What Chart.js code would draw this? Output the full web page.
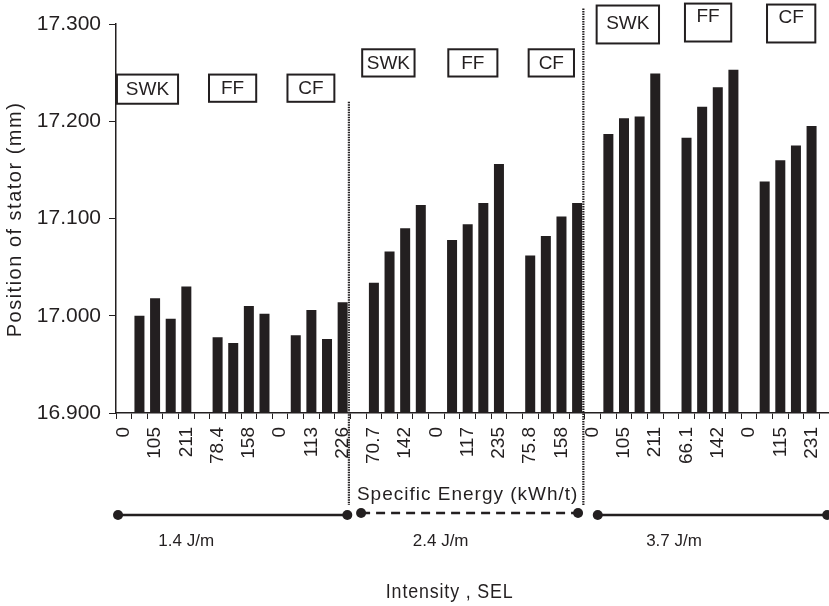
<!DOCTYPE html>
<html>
<head>
<meta charset="utf-8">
<title>Position of stator</title>
<script src="https://cdn.jsdelivr.net/npm/chart.js@4.4.0/dist/chart.umd.min.js"></script>
<style>
    html, body { margin: 0; padding: 0; background: #fff; overflow: hidden; }
    #wrap { width: 858px; height: 606px; }
</style>
</head>
<body>
<div id="wrap"><canvas id="statorChart" width="858" height="606"></canvas></div>
<script>
// Stator position (mm) per refining intensity, treatment and specific energy
const intensities = ['1.4 J/m', '2.4 J/m', '3.7 J/m'];
const treatments = ['SWK', 'FF', 'CF'];

const swk14 = [17.000, 17.018, 16.997, 17.030];
const ff14 = [16.978, 16.972, 17.010, 17.002];
const cf14 = [16.980, 17.006, 16.976, 17.014];

const swk24 = [17.034, 17.066, 17.090, 17.114];
const ff24 = [17.078, 17.094, 17.116, 17.156];
const cf24 = [17.062, 17.082, 17.102, 17.116];

const swk37 = [17.187, 17.203, 17.205, 17.249];
const ff37 = [17.183, 17.215, 17.235, 17.253];
const cf37 = [17.138, 17.160, 17.175, 17.195];

// Specific energy (kWh/t), shown on every second category
const energyTicks = ['0', '105', '211', '78.4', '158', '0', '113', '226',
    '70.7', '142', '0', '117', '235', '75.8', '158',
    '0', '105', '211', '66.1', '142', '0', '115', '231'];

// Each intensity block: empty slot, then 4 bars per treatment with a gap between
const blocks = [[swk14, ff14, cf14], [swk24, ff24, cf24], [swk37, ff37, cf37]];
const values = [];
blocks.forEach(block => {
    values.push(null);
    block.forEach((group, gi) => {
        if (gi > 0) values.push(null);
        values.push(...group);
    });
});
values.push(null);
const labels = values.map((_, i) => (i % 2 === 0 ? (energyTicks[i / 2] ?? '') : ''));

const INK = '#231f20';

const overlay = {
    id: 'overlay',
    afterDraw(chart) {
        const { ctx, scales: { x, y }, chartArea } = chart;
        const catW = x.getPixelForValue(1) - x.getPixelForValue(0);
        const catX = c => x.getPixelForValue(c - 0.5);

        ctx.save();
        ctx.fillStyle = INK;
        ctx.strokeStyle = INK;

        // treatment boxes above each group: [block, treatment, fromCat, toCat, topVal, bottomVal, textVal]
        const boxes = [
            [0, 0, 0.06, 3.97, 17.248, 17.218, null],
            [0, 1, 5.95, 8.97, 17.248, 17.220, null],
            [0, 2, 10.97, 13.97, 17.248, 17.220, null],
            [1, 0, 15.75, 19.10, 17.274, 17.246, null],
            [1, 1, 21.26, 24.40, 17.274, 17.246, null],
            [1, 2, 26.40, 29.30, 17.274, 17.246, null],
            [2, 0, 30.75, 34.74, 17.319, 17.280, 17.300],
            [2, 1, 36.40, 39.36, 17.321, 17.282, 17.307],
            [2, 2, 41.65, 44.74, 17.320, 17.281, 17.306]
        ];
        ctx.lineWidth = 2;
        ctx.font = '19px Arial, "Liberation Sans", sans-serif';
        ctx.textAlign = 'center';
        ctx.textBaseline = 'middle';
        boxes.forEach(([, t, c0, c1, top, bottom, tv]) => {
            const x0 = catX(c0), x1 = catX(c1);
            const y0 = y.getPixelForValue(top), y1 = y.getPixelForValue(bottom);
            ctx.fillStyle = '#fff';
            ctx.fillRect(x0, y0, x1 - x0, y1 - y0);
            ctx.strokeRect(x0, y0, x1 - x0, y1 - y0);
            ctx.fillStyle = INK;
            const ty = tv === null ? (y0 + y1) / 2 + 1 : y.getPixelForValue(tv);
            ctx.fillText(treatments[t], (x0 + x1) / 2, ty);
        });

        // dotted separators between intensity blocks
        ctx.lineWidth = 2.2;
        ctx.setLineDash([1.5, 1]);
        [[14, 17.220], [29, 17.316]].forEach(([c, top]) => {
            const sx = x.getPixelForValue(c) + catW * 0.4;
            ctx.beginPath();
            ctx.moveTo(sx, y.getPixelForValue(top));
            ctx.lineTo(sx, chartArea.bottom + 92);
            ctx.stroke();
        });

        // intensity ranges under the axis
        const rangeY = chartArea.bottom + 102;
        const ranges = [[0.13, 14.8, false], [15.68, 29.56, true], [30.82, 45.5, false]];
        ranges.forEach(([c0, c1, dashed]) => {
            const x0 = catX(c0), x1 = catX(c1);
            const ly = dashed ? rangeY - 2 : rangeY;
            ctx.lineWidth = 2.5;
            ctx.setLineDash(dashed ? [9, 6] : []);
            ctx.beginPath();
            ctx.moveTo(x0, ly);
            ctx.lineTo(x1, ly);
            ctx.stroke();
            ctx.setLineDash([]);
            [x0, x1].forEach(px => {
                ctx.beginPath();
                ctx.arc(px, ly, 5, 0, Math.PI * 2);
                ctx.fill();
            });
        });

        ctx.font = '17px Arial, "Liberation Sans", sans-serif';
        ctx.textAlign = 'center';
        ctx.textBaseline = 'middle';
        [4.49, 20.77, 35.7].forEach((c, i) => {
            ctx.fillText(intensities[i], catX(c), chartArea.bottom + 128);
        });

        ctx.letterSpacing = '1px';
        ctx.font = '19px Arial, "Liberation Sans", sans-serif';
        ctx.fillText('Specific Energy (kWh/t)', catX(22.5), chartArea.bottom + 82);

        // condensed caption under the ranges
        ctx.save();
        ctx.font = '21px Arial, "Liberation Sans", sans-serif';
        ctx.translate(catX(21.35), chartArea.bottom + 179);
        ctx.scale(0.85, 1);
        ctx.fillText('Intensity , SEL', 0, 0);
        ctx.restore();

        // y axis title
        ctx.letterSpacing = '1.5px';
        ctx.font = '20px Arial, "Liberation Sans", sans-serif';
        ctx.translate(15, (chartArea.top + chartArea.bottom) / 2 + 1);
        ctx.rotate(-Math.PI / 2);
        ctx.fillText('Position of stator (mm)', 0, 0);
        ctx.restore();
    }
};

const chart = new Chart(document.getElementById('statorChart'), {
    type: 'bar',
    data: {
        labels: labels,
        datasets: [{
            data: values,
            backgroundColor: INK,
            borderWidth: 0,
            barPercentage: 0.64,
            categoryPercentage: 1
        }]
    },
    options: {
        responsive: false,
        animation: false,
        layout: { padding: { top: 24, left: 0, right: 0, bottom: 0 } },
        plugins: {
            legend: { display: false },
            tooltip: { enabled: false }
        },
        scales: {
            x: {
                afterFit: scale => { scale.height = 193; },
                grid: { display: true, drawOnChartArea: false, tickLength: 6, color: INK, lineWidth: 1 },
                border: { color: INK, width: 1.5 },
                ticks: {
                    autoSkip: false,
                    maxRotation: 90,
                    minRotation: 90,
                    padding: 8,
                    color: INK,
                    font: { family: 'Arial, "Liberation Sans", sans-serif', size: 19 }
                }
            },
            y: {
                min: 16.9,
                max: 17.3,
                afterFit: scale => { scale.width = 116; },
                grid: { display: true, drawOnChartArea: false, tickLength: 7, color: INK, lineWidth: 1 },
                border: { color: INK, width: 1.5 },
                ticks: {
                    stepSize: 0.1,
                    padding: 8,
                    color: INK,
                    font: { family: 'Arial, "Liberation Sans", sans-serif', size: 21 },
                    callback: v => v.toFixed(3)
                }
            }
        }
    },
    plugins: [overlay]
});
</script>
</body>
</html>
